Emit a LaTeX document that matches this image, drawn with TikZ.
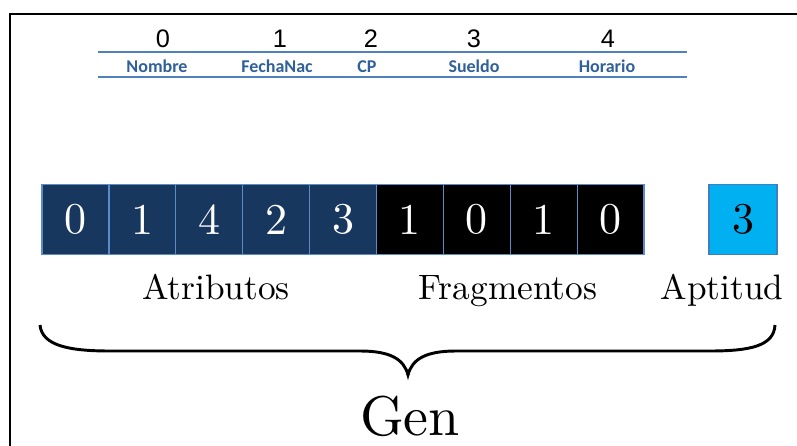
\documentclass[tikz,border=0pt]{standalone}
\usepackage{fontspec}
\setmainfont{lmroman10-regular}[Extension=.otf]
\newfontfamily\numfont{Liberation Sans}
\newfontfamily\lblfont{Carlito}
\usepackage{tikz}
\definecolor{genblue}{HTML}{17375E}
\definecolor{cellline}{HTML}{5B8BC9}
\definecolor{aptcyan}{HTML}{00B0F0}
\definecolor{aptline}{HTML}{3F7FBF}
\definecolor{rulebl}{HTML}{4F81BD}
\definecolor{hdrtext}{HTML}{30609A}

\begin{document}
\begin{tikzpicture}[x=0.75pt,y=-0.75pt,
        attr/.style={draw=cellline,line width=1pt,fill=genblue,text=white,minimum width=50.2pt,minimum height=52.5pt,inner sep=0pt,font=\fontsize{33}{33}\selectfont},
        frag/.style={attr,fill=black},
        aptbox/.style={attr,draw=aptline,fill=aptcyan,text=black,minimum width=51pt},
        hnum/.style={anchor=base,font=\numfont\fontsize{19}{19}\selectfont},
        hlbl/.style={anchor=base,text=hdrtext,font=\lblfont\bfseries\fontsize{13.5}{13.5}\selectfont},
        lbl/.style={anchor=base,font=\fontsize{26.5}{26.5}\selectfont}]
        \fill[white] (0,0) rectangle (797,446);
        \useasboundingbox (0,0) rectangle (797,446);
        \draw[line width=1.6pt] (797,14) -- (10,14) -- (10,446);
        \draw (163,47) node(n0)[hnum]{0};
        \draw (280,47) node(n1)[hnum]{1};
        \draw (371,47) node(n2)[hnum]{2};
        \draw (474,47) node(n3)[hnum]{3};
        \draw (608,47) node(n4)[hnum]{4};
        \coordinate (r1) at (98,52);
        \coordinate (r2) at (687,52);
        \coordinate (r3) at (98,77);
        \coordinate (r4) at (687,77);
        \draw[rulebl,line width=1.5pt] (r1) -- (r2);
        \draw[rulebl,line width=1.5pt] (r3) -- (r4);
        \draw (157,72) node(h0)[hlbl]{Nombre};
        \draw (277,72) node(h1)[hlbl]{FechaNac};
        \draw (367,72) node(h2)[hlbl]{CP};
        \draw (474,72) node(h3)[hlbl]{Sueldo};
        \draw (607,72) node(h4)[hlbl]{Horario};
        \draw (75.45,219.5) node(0)[attr]{0};
        \draw (142.35,219.5) node(1)[attr]{1};
        \draw (209.25,219.5) node(2)[attr]{4};
        \draw (276.15,219.5) node(3)[attr]{2};
        \draw (343.05,219.5) node(4)[attr]{3};
        \draw (409.95,219.5) node(5)[frag]{1};
        \draw (476.85,219.5) node(6)[frag]{0};
        \draw (543.75,219.5) node(7)[frag]{1};
        \draw (610.65,219.5) node(8)[frag]{0};
        \draw (743,219.5) node(9)[aptbox]{3};
        \draw (216,299) node(atr)[lbl]{Atributos};
        \draw (508,299) node(frg)[lbl]{Fragmentos};
        \draw (722,299) node(apt)[lbl]{Aptitud};
        \draw[line width=2.2pt] (40,325) .. controls (42,346) and (70,351) .. (110,351) -- (360,351) .. controls (390,351) and (404,359) .. (408,375) .. controls (412,359) and (426,351) .. (456,351) -- (710,351) .. controls (750,351) and (774,346) .. (775,325);
        \draw (410,435) node(gen)[anchor=base,font=\fontsize{42}{42}\selectfont]{Gen};
    \end{tikzpicture}
\end{document}
